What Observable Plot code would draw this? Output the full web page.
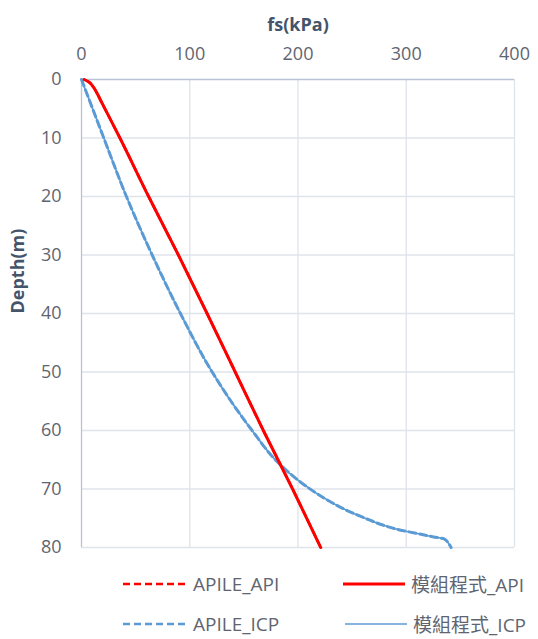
<!DOCTYPE html>
<html>
<head>
<meta charset="utf-8">
<script src="https://cdn.jsdelivr.net/npm/d3@7"></script>
<script src="https://cdn.jsdelivr.net/npm/@observablehq/plot@0.6"></script>
<style>
  html, body { margin: 0; padding: 0; background: #fff; }
  #chart { width: 538px; font-family: "Open Sans", "Noto Sans CJK TC", sans-serif; }
  #legend { position: relative; width: 538px; height: 79px; font-size: 19px; color: #5f6570; }
  .item { position: absolute; display: flex; align-items: center; height: 24px; }
  .item svg { margin-right: 6px; }
</style>
</head>
<body>
<div id="chart"></div>
<script>
// Depth (m) and fs (kPa)
const depthApileApi = [0, 0.4, 1.3, 2.4, 3.5, 10, 20, 30, 40, 50, 60, 70, 80];
const fsApileApi    = [2.5, 6.5, 11, 14.5, 17.5, 35.5, 62, 89.5, 116, 142, 168, 195, 221];
const depthModuleApi = [0, 0.4, 1.3, 2.4, 3.5, 10, 20, 30, 40, 50, 60, 70, 80];
const fsModuleApi    = [2.5, 6.5, 11, 14.5, 17.5, 35.5, 62, 89.5, 116, 142, 168, 195, 221];

const depthApileIcp = [0, 10, 20, 30, 40, 50, 60, 65.6, 68.8, 70.8, 72.5, 73.9, 75, 76.2, 77.0, 77.6, 78.2, 78.5, 79.3, 80];
const fsApileIcp    = [0, 20.6, 41.5, 65.3, 91.4, 120.7, 157.6, 182.2, 202.2, 217.6, 233, 248, 262, 279, 294, 310, 325.3, 334.5, 339.1, 341.4];
const depthModuleIcp = [0, 10, 20, 30, 40, 50, 60, 65.6, 68.8, 70.8, 72.5, 73.9, 75, 76.2, 77.0, 77.6, 78.2, 78.5, 79.3, 80];
const fsModuleIcp    = [0, 20.6, 41.5, 65.3, 91.4, 120.7, 157.6, 182.2, 202.2, 217.6, 233, 248, 262, 279, 294, 310, 325.3, 334.5, 339.1, 341.4];

const xTicks = [0, 100, 200, 300, 400];
const yTicks = [0, 10, 20, 30, 40, 50, 60, 70, 80];
const seriesNames = ["APILE_API", "模組程式_API", "APILE_ICP", "模組程式_ICP"];

const toRows = (ds, fs) => ds.map((d, i) => ({depth: d, fs: fs[i]}));
const apileApi = toRows(depthApileApi, fsApileApi);
const moduleApi = toRows(depthModuleApi, fsModuleApi);
const apileIcp = toRows(depthApileIcp, fsApileIcp);
const moduleIcp = toRows(depthModuleIcp, fsModuleIcp);

const red = "#ff0000", blue = "#5b9bd5";
const gridColor = "#dfe3ea", axisLine = "#b9c3d3", tickColor = "#5f6570", titleColor = "#44546a";

const plot = Plot.plot({
  width: 538,
  height: 560,
  marginTop: 79,
  marginLeft: 81,
  marginRight: 24,
  marginBottom: 13,
  style: {fontFamily: "'Open Sans', 'Noto Sans CJK TC', sans-serif", fontSize: "18px", background: "#fff"},
  x: {domain: [0, 400]},
  y: {domain: [0, 80], reverse: true},
  marks: [
    Plot.gridX(xTicks.slice(1), {stroke: gridColor, strokeOpacity: 1, strokeWidth: 1.3}),
    Plot.gridY(yTicks.slice(1), {stroke: gridColor, strokeOpacity: 1, strokeWidth: 1.3}),
    Plot.ruleX([0], {stroke: axisLine, strokeWidth: 1.3}),
    Plot.ruleY([0], {stroke: axisLine, strokeWidth: 1.3}),
    Plot.axisX(xTicks, {anchor: "top", tickSize: 0, tickPadding: 20, label: null, fill: tickColor, fontSize: 18}),
    Plot.axisY(yTicks, {anchor: "left", tickSize: 0, tickPadding: 20, label: null, fill: tickColor, fontSize: 18}),
    Plot.line(apileIcp, {x: "fs", y: "depth", stroke: blue, strokeWidth: 3, strokeDasharray: "7,4", curve: "monotone-y"}),
    Plot.line(moduleIcp, {x: "fs", y: "depth", stroke: blue, strokeWidth: 1.6, curve: "monotone-y"}),
    Plot.line(apileApi, {x: "fs", y: "depth", stroke: red, strokeWidth: 2.5, strokeDasharray: "7,4", curve: "monotone-y"}),
    Plot.line(moduleApi, {x: "fs", y: "depth", stroke: red, strokeWidth: 3, curve: "monotone-y"}),
    Plot.text(["fs(kPa)"], {frameAnchor: "top", dy: -61, fill: titleColor, fontWeight: "bold", fontSize: 18}),
    Plot.text(["Depth(m)"], {frameAnchor: "left", dx: -63, rotate: -90, fill: titleColor, fontWeight: "bold", fontSize: 18})
  ]
});
document.getElementById("chart").appendChild(plot);

// Legend
const legend = document.createElement("div");
legend.id = "legend";
const items = [
  {name: seriesNames[0], color: red, dash: "7,4", w: 2.5, left: 123, top: 12},
  {name: seriesNames[1], color: red, dash: null, w: 3, left: 343, top: 12},
  {name: seriesNames[2], color: blue, dash: "7,4", w: 2.5, left: 123, top: 52},
  {name: seriesNames[3], color: blue, dash: null, w: 1.5, left: 345, top: 52}
];
for (const it of items) {
  const div = document.createElement("div");
  div.className = "item";
  div.style.left = it.left + "px";
  div.style.top = it.top + "px";
  const sw = it.dash ? 64 : 62;
  div.innerHTML = `<svg width="${sw}" height="10"><line x1="0" x2="${sw}" y1="5" y2="5" stroke="${it.color}" stroke-width="${it.w}" ${it.dash ? `stroke-dasharray="${it.dash}"` : ""}/></svg><span>${it.name}</span>`;
  legend.appendChild(div);
}
document.getElementById("chart").appendChild(legend);
</script>
</body>
</html>
